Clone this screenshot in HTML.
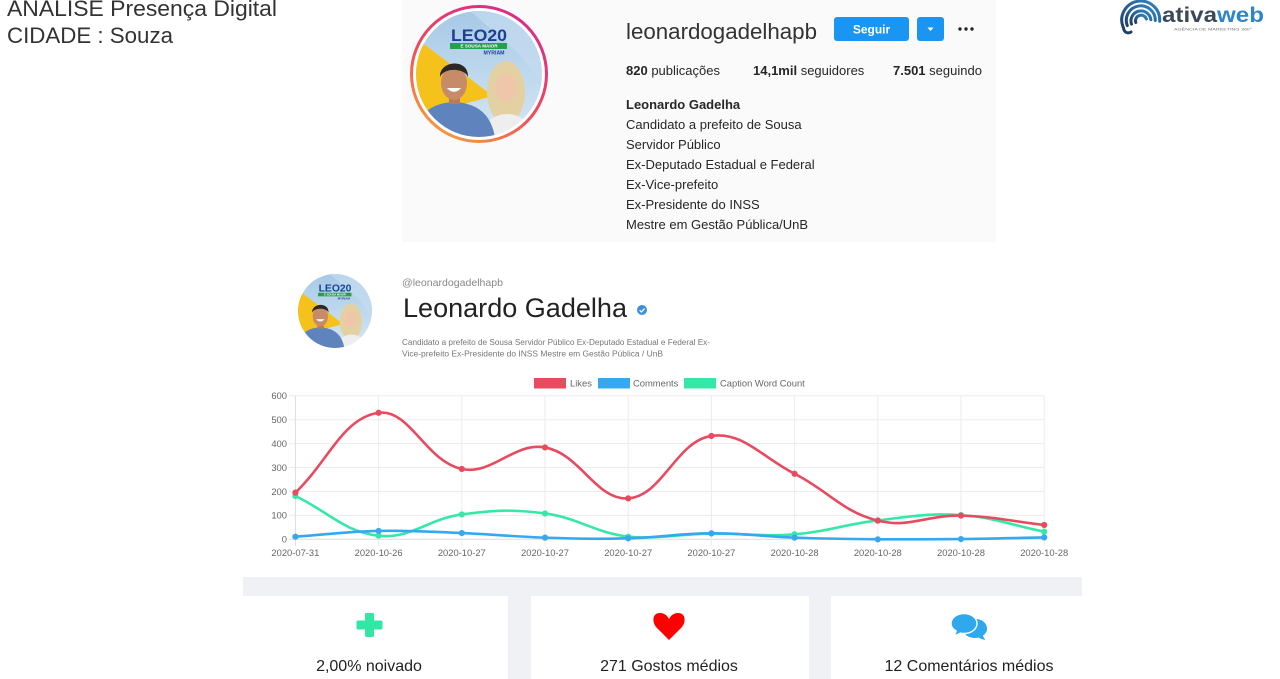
<!DOCTYPE html>
<html>
<head>
<meta charset="utf-8">
<style>
  html,body{margin:0;padding:0;background:#fff;}
  body{width:1280px;height:679px;overflow:hidden;position:relative;font-family:"Liberation Sans",Arial,sans-serif;}
  svg{position:absolute;left:0;top:0;}
  text{font-family:"Liberation Sans",Arial,sans-serif;}
</style>
</head>
<body>
<svg id="page" width="1280" height="679" viewBox="0 0 1280 679" xmlns="http://www.w3.org/2000/svg">
  <defs>
    <linearGradient id="ring" x1="0.2" y1="1" x2="0.8" y2="0">
      <stop offset="0" stop-color="#f7a13a"/>
      <stop offset="0.45" stop-color="#ef4a5c"/>
      <stop offset="1" stop-color="#d62a8e"/>
    </linearGradient>
    <linearGradient id="sky" x1="0" y1="0" x2="0" y2="1">
      <stop offset="0" stop-color="#a6c9e6"/>
      <stop offset="1" stop-color="#d6e7f3"/>
    </linearGradient>
    <linearGradient id="logoG" x1="0" y1="1" x2="1" y2="0">
      <stop offset="0" stop-color="#1f3f66"/>
      <stop offset="1" stop-color="#2f86c9"/>
    </linearGradient>
    <clipPath id="c1"><circle cx="0" cy="0" r="63"/></clipPath>
    <clipPath id="c2"><circle cx="0" cy="0" r="63"/></clipPath>
  </defs>

  <!-- Title -->
  <text x="7" y="16" font-size="22" fill="#333" textLength="270" lengthAdjust="spacingAndGlyphs">ANÁLISE Presença Digital</text>
  <text x="7" y="43" font-size="22" fill="#333" textLength="166" lengthAdjust="spacingAndGlyphs">CIDADE : Souza</text>

  <!-- Logo -->
  <g fill="none" stroke="url(#logoG)" stroke-width="3" stroke-linecap="round">
    <path d="M1123.1,27.1 A19,19 0 1 1 1159.7,21.3"/>
    <path d="M1127.3,25.6 A14.5,14.5 0 1 1 1155.3,20.5"/>
    <path d="M1131.5,24.1 A10,10 0 1 1 1150.9,19.7"/>
    <path d="M1135.8,22.5 A5.5,5.5 0 1 1 1146.4,19"/>
  </g>
  <path d="M1123.5,28 C1124,32.5 1128,34 1131,32" fill="none" stroke="#1f3f66" stroke-width="3" stroke-linecap="round"/>
  <text x="1162" y="22" font-size="21" font-weight="bold" textLength="102" lengthAdjust="spacingAndGlyphs"><tspan fill="#3b4856">ativa</tspan><tspan fill="#2d86c8">web</tspan></text>
  <text x="1174" y="30.5" font-size="4" fill="#777" textLength="78" lengthAdjust="spacingAndGlyphs">AGÊNCIA DE MARKETING 360°</text>

  <!-- Instagram panel -->
  <rect x="402" y="0" width="594" height="242" fill="#fafafa"/>
  <circle cx="479" cy="74" r="67.5" fill="#fff" stroke="url(#ring)" stroke-width="3"/>
  <g transform="translate(479,74)">
    <g clip-path="url(#c1)">
      <rect x="-64" y="-64" width="128" height="128" fill="url(#sky)"/>
      <polygon points="-66,-38 14,22 -66,44" fill="#f4c21b"/>
      <polygon points="-10,-64 64,-64 64,10 40,-20" fill="#c4dcef" opacity="0.7"/>
      <text x="0" y="-33" text-anchor="middle" font-size="17" font-weight="bold" fill="#1f3f94" textLength="56" lengthAdjust="spacingAndGlyphs">LEO20</text>
      <rect x="-29" y="-31" width="57" height="6" fill="#22a04b"/>
      <text x="0" y="-26.6" text-anchor="middle" font-size="4.6" font-weight="bold" fill="#fff">E SOUSA MAIOR</text>
      <text x="15" y="-19.5" text-anchor="middle" font-size="5.2" font-weight="bold" fill="#1f3f94">MYRIAM</text>
      <ellipse cx="27" cy="18" rx="19" ry="31" fill="#e4d1a3"/>
      <ellipse cx="28" cy="62" rx="25" ry="22" fill="#eeeeee"/>
      <ellipse cx="27" cy="14" rx="11" ry="14" fill="#f0c6aa"/>
      <path d="M-64,64 C-62,38 -46,29 -25,28 C-4,29 12,38 16,64 Z" fill="#5f84bd"/>
      <rect x="-30" y="18" width="11" height="12" fill="#b87c5a"/>
      <ellipse cx="-25" cy="9" rx="13" ry="17" fill="#c88b67"/>
      <path d="M-39,3 C-40,-14 -10,-16 -11,3 C-14,-6 -35,-7 -39,3 Z" fill="#2c2624"/>
      <path d="M-32,14 C-28,19 -22,19 -18,14 Z" fill="#fff"/>
    </g>
  </g>

  <text x="626" y="39" font-size="22.5" fill="#333" textLength="191" lengthAdjust="spacingAndGlyphs">leonardogadelhapb</text>
  <rect x="834" y="17" width="75" height="24" rx="3" fill="#1a95f2"/>
  <text x="871.5" y="33.5" text-anchor="middle" font-size="12" font-weight="bold" fill="#fff">Seguir</text>
  <rect x="917" y="17" width="27" height="24" rx="3" fill="#1a95f2"/>
  <polygon points="927.5,27.5 933.5,27.5 930.5,31" fill="#fff"/>
  <circle cx="960" cy="29" r="1.7" fill="#262626"/>
  <circle cx="966" cy="29" r="1.7" fill="#262626"/>
  <circle cx="972" cy="29" r="1.7" fill="#262626"/>

  <g font-size="13" fill="#262626">
    <text x="626" y="75"><tspan font-weight="bold">820</tspan> publicações</text>
    <text x="753" y="75"><tspan font-weight="bold">14,1mil</tspan> seguidores</text>
    <text x="893" y="75"><tspan font-weight="bold">7.501</tspan> seguindo</text>
    <text x="626" y="109" font-weight="bold">Leonardo Gadelha</text>
    <text x="626" y="129">Candidato a prefeito de Sousa</text>
    <text x="626" y="149">Servidor Público</text>
    <text x="626" y="169">Ex-Deputado Estadual e Federal</text>
    <text x="626" y="189">Ex-Vice-prefeito</text>
    <text x="626" y="209">Ex-Presidente do INSS</text>
    <text x="626" y="229">Mestre em Gestão Pública/UnB</text>
  </g>

  <!-- Second profile header -->
  <g transform="translate(335,311) scale(0.587)">
    <g clip-path="url(#c2)">
      <rect x="-64" y="-64" width="128" height="128" fill="url(#sky)"/>
      <polygon points="-66,-38 14,22 -66,44" fill="#f4c21b"/>
      <polygon points="-10,-64 64,-64 64,10 40,-20" fill="#c4dcef" opacity="0.7"/>
      <text x="0" y="-33" text-anchor="middle" font-size="17" font-weight="bold" fill="#1f3f94" textLength="56" lengthAdjust="spacingAndGlyphs">LEO20</text>
      <rect x="-29" y="-31" width="57" height="6" fill="#22a04b"/>
      <text x="0" y="-26.6" text-anchor="middle" font-size="4.6" font-weight="bold" fill="#fff">E SOUSA MAIOR</text>
      <text x="15" y="-19.5" text-anchor="middle" font-size="5.2" font-weight="bold" fill="#1f3f94">MYRIAM</text>
      <ellipse cx="27" cy="18" rx="19" ry="31" fill="#e4d1a3"/>
      <ellipse cx="28" cy="62" rx="25" ry="22" fill="#eeeeee"/>
      <ellipse cx="27" cy="14" rx="11" ry="14" fill="#f0c6aa"/>
      <path d="M-64,64 C-62,38 -46,29 -25,28 C-4,29 12,38 16,64 Z" fill="#5f84bd"/>
      <rect x="-30" y="18" width="11" height="12" fill="#b87c5a"/>
      <ellipse cx="-25" cy="9" rx="13" ry="17" fill="#c88b67"/>
      <path d="M-39,3 C-40,-14 -10,-16 -11,3 C-14,-6 -35,-7 -39,3 Z" fill="#2c2624"/>
      <path d="M-32,14 C-28,19 -22,19 -18,14 Z" fill="#fff"/>
    </g>
  </g>
  <text x="402" y="286" font-size="10.5" fill="#888" textLength="101" lengthAdjust="spacingAndGlyphs">@leonardogadelhapb</text>
  <text x="403" y="317" font-size="27" fill="#222" textLength="224" lengthAdjust="spacingAndGlyphs">Leonardo Gadelha</text>
  <circle cx="642" cy="310" r="5" fill="#3a8fde"/>
  <path d="M639.6,310.2 L641.4,312 L644.6,308.6" fill="none" stroke="#fff" stroke-width="1.3"/>
  <text x="402" y="345" font-size="8" fill="#777" textLength="308" lengthAdjust="spacingAndGlyphs">Candidato a prefeito de Sousa Servidor Público Ex-Deputado Estadual e Federal Ex-</text>
  <text x="402" y="356.5" font-size="8" fill="#777" textLength="261" lengthAdjust="spacingAndGlyphs">Vice-prefeito Ex-Presidente do INSS Mestre em Gestão Pública / UnB</text>

  <!-- Chart -->
  <g id="grid" stroke="#e8e8e8" stroke-width="1"></g>
  <g id="ylabels" font-size="9.4" fill="#666" text-anchor="end"></g>
  <g id="xlabels" font-size="9.4" fill="#666" text-anchor="middle"></g>
  <g font-size="9.4" fill="#666">
    <rect x="534" y="378" width="32" height="10.5" fill="#e84a5f"/>
    <text x="570" y="386.5">Likes</text>
    <rect x="598" y="378" width="32" height="10.5" fill="#36a8f0"/>
    <text x="633" y="386.5">Comments</text>
    <rect x="684" y="378" width="32" height="10.5" fill="#36e8a8"/>
    <text x="720" y="386.5">Caption Word Count</text>
  </g>
  <g id="series"></g>

  <!-- Stats -->
  <rect x="243" y="577" width="839" height="102" fill="#f0f1f5"/>
  <rect x="243" y="596" width="265" height="83" fill="#fff"/>
  <rect x="531" y="596" width="278" height="83" fill="#fff"/>
  <rect x="831" y="596" width="251" height="83" fill="#fff"/>

  <rect x="365" y="613" width="9" height="24" rx="1.5" fill="#33e6a6"/>
  <rect x="356.5" y="620.5" width="26" height="9" rx="1.5" fill="#33e6a6"/>

  <path d="M669,640 L656,627 C652,622 652,613 660,613 C664.5,613 667.5,616 669,619 C670.5,616 673.5,613 678,613 C686,613 686,622 682,627 Z" fill="#ff0000"/>

  <path d="M975,619 C982,619 987,623 987,628.5 C987,631.5 985.5,634 983,635.5 C983.5,637.5 984.5,639 985.5,640 C982.5,639.5 980,638.5 978.5,637.5 C977.5,637.8 976.3,638 975,638 C968,638 963,634 963,628.5 C963,623 968,619 975,619 Z" fill="#2fa8ee"/>
  <path d="M964,613.5 C971.5,613.5 977,618 977,623.5 C977,629 971.5,633.5 964,633.5 C962.7,633.5 961.5,633.3 960.3,633 C958.6,634.3 956.3,635.3 953.5,635.6 C954.8,634.4 955.8,632.8 956.2,631 C953,629.2 951,626.5 951,623.5 C951,618 956.5,613.5 964,613.5 Z" fill="#2fa8ee" stroke="#fff" stroke-width="1.4"/>

  <g font-size="16" fill="#222" text-anchor="middle">
    <text x="369" y="671">2,00% noivado</text>
    <text x="669" y="671">271 Gostos médios</text>
    <text x="969" y="671">12 Comentários médios</text>
  </g>
</svg>

<script>
(function(){
  var NS="http://www.w3.org/2000/svg";
  function X(i){return 295.4+i*83.2;}
  function Y(v){return 539.3-v*0.2392;}
  var TOP=Y(600), BOT=Y(0), LEFT=X(0), RIGHT=X(9);
  function el(tag,attrs,parent,txt){
    var e=document.createElementNS(NS,tag);
    for(var k in attrs) e.setAttribute(k,attrs[k]);
    if(txt!==undefined) e.textContent=txt;
    parent.appendChild(e); return e;
  }
  var grid=document.getElementById("grid");
  for(var v=0; v<=600; v+=100){
    el("line",{x1:289,x2:RIGHT,y1:Y(v),y2:Y(v),stroke:(v===0?"#dcdcdc":"#ebebeb")},grid);
  }
  for(var i=0;i<10;i++){
    el("line",{x1:X(i),x2:X(i),y1:TOP,y2:546,stroke:(i===0?"#dcdcdc":"#ebebeb")},grid);
  }
  var yl=document.getElementById("ylabels");
  for(var v2=0; v2<=600; v2+=100){ el("text",{x:287,y:Y(v2)+3.3},yl,String(v2)); }
  var labels=["2020-07-31","2020-10-26","2020-10-27","2020-10-27","2020-10-27","2020-10-27","2020-10-28","2020-10-28","2020-10-28","2020-10-28"];
  var xl=document.getElementById("xlabels");
  for(var j=0;j<10;j++){ el("text",{x:X(j),y:556},xl,labels[j]); }

  function build(vals,color,parent){
    var pts=vals.map(function(v,i){return {x:X(i),y:Y(v)};});
    var t=0.4, cps=[];
    for(var i=0;i<pts.length;i++){
      var p=pts[i-1]||pts[i], c=pts[i], n=pts[i+1]||pts[i];
      var d01=Math.hypot(c.x-p.x,c.y-p.y), d12=Math.hypot(n.x-c.x,n.y-c.y);
      var s01=d01/(d01+d12), s12=d12/(d01+d12);
      if(isNaN(s01)) s01=0; if(isNaN(s12)) s12=0;
      var fa=t*s01, fb=t*s12;
      var pc={x:c.x-fa*(n.x-p.x), y:c.y-fa*(n.y-p.y)};
      var nc={x:c.x+fb*(n.x-p.x), y:c.y+fb*(n.y-p.y)};
      [pc,nc].forEach(function(q){
        q.x=Math.max(LEFT,Math.min(RIGHT,q.x));
        q.y=Math.max(TOP,Math.min(BOT,q.y));
      });
      cps.push({p:pc,n:nc});
    }
    var d="M"+pts[0].x.toFixed(2)+","+pts[0].y.toFixed(2);
    for(var k=1;k<pts.length;k++){
      d+=" C"+cps[k-1].n.x.toFixed(2)+","+cps[k-1].n.y.toFixed(2)+" "+cps[k].p.x.toFixed(2)+","+cps[k].p.y.toFixed(2)+" "+pts[k].x.toFixed(2)+","+pts[k].y.toFixed(2);
    }
    el("path",{d:d,fill:"none",stroke:color,"stroke-width":2.6,"stroke-linejoin":"round"},parent);
    pts.forEach(function(q){ el("circle",{cx:q.x,cy:q.y,r:2.8,fill:color,stroke:color,"stroke-width":0.6},parent); });
  }
  var s=document.getElementById("series");
  build([181,15,104,108,11,24,21,79,101,32],"#36e8a8",s);
  build([11,35,26,7,4,25,7,0,1,8],"#36a8f0",s);
  build([195,529,294,384,171,432,274,78,99,60],"#e84a5f",s);
})();
</script>
</body>
</html>
